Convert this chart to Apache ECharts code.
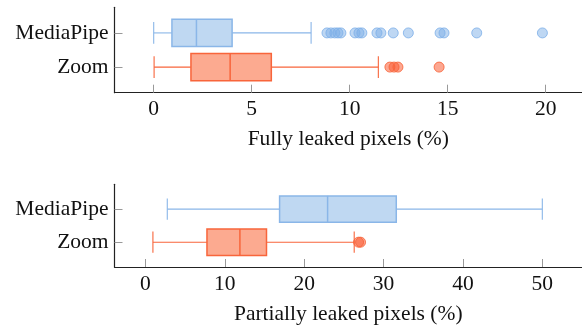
<!DOCTYPE html>
<html>
<head>
<meta charset="utf-8">
<script src="https://cdn.jsdelivr.net/npm/echarts@6/dist/echarts.min.js"></script>
<style>
html,body{margin:0;padding:0;background:#fff;}
#chart{width:582px;height:326px;}
</style>
</head>
<body>
<div id="chart"></div>
<script>
// Categories (y position 1 = Zoom, 2 = MediaPipe)
const categories = ['Zoom', 'MediaPipe'];

// Fully leaked pixels (%) : [min, Q1, median, Q3, max]
const fullyZoom = [0.02, 1.9, 3.9, 6.0, 11.46];
const fullyMediaPipe = [0.0, 0.93, 2.18, 4.0, 8.03];
const fullyZoomOutliers = [12.05, 12.26, 12.46, 14.56];
const fullyMediaPipeOutliers = [8.84, 9.04, 9.24, 9.40, 9.55, 10.27, 10.47, 10.62, 11.39, 11.59, 12.22, 12.99, 14.61, 14.81, 16.48, 19.83];

// Partially leaked pixels (%)
const partialZoom = [0.94, 7.75, 11.9, 15.25, 26.3];
const partialMediaPipe = [2.75, 16.9, 22.95, 31.6, 50.0];
const partialZoomOutliers = [26.85, 27.1];
const partialMediaPipeOutliers = [];

// Tick labels
const fullyTicks = [0, 5, 10, 15, 20];
const partialTicks = [0, 10, 20, 30, 40, 50];

const FONT = 'Liberation Serif';
const FS = 21.5;
const styles = {
  Zoom: {stroke: '#f8653b', fill: '#fcaa90', dotFill: 'rgba(250,95,55,0.55)', dotStroke: 'rgba(248,101,59,0.85)'},
  MediaPipe: {stroke: '#8ab6e8', fill: '#bfd8f2', dotFill: 'rgba(125,175,232,0.5)', dotStroke: 'rgba(125,175,232,0.8)'}
};

function renderBox(params, api) {
  const yv = api.value(0);
  const name = categories[yv - 1];
  const st = styles[name];
  const vmin = api.value(1), q1 = api.value(2), med = api.value(3), q3 = api.value(4), vmax = api.value(5);
  const c = api.coord([med, yv]);
  const y = c[1];
  const boxH = api.size([0, 0.8])[1];
  const capH = api.size([0, 0.64])[1];
  const xMin = api.coord([vmin, yv])[0];
  const xQ1 = api.coord([q1, yv])[0];
  const xMed = c[0];
  const xQ3 = api.coord([q3, yv])[0];
  const xMax = api.coord([vmax, yv])[0];
  const line = {stroke: st.stroke, lineWidth: 1.1};
  return {
    type: 'group',
    children: [
      {type: 'line', shape: {x1: xMin, y1: y, x2: xQ1, y2: y}, style: line},
      {type: 'line', shape: {x1: xQ3, y1: y, x2: xMax, y2: y}, style: line},
      {type: 'line', shape: {x1: xMin, y1: y - capH / 2, x2: xMin, y2: y + capH / 2}, style: line},
      {type: 'line', shape: {x1: xMax, y1: y - capH / 2, x2: xMax, y2: y + capH / 2}, style: line},
      {type: 'rect', shape: {x: xQ1, y: y - boxH / 2, width: xQ3 - xQ1, height: boxH},
        style: {fill: st.fill, stroke: st.stroke, lineWidth: 1.5}},
      {type: 'line', shape: {x1: xMed, y1: y - boxH / 2, x2: xMed, y2: y + boxH / 2},
        style: {stroke: st.stroke, lineWidth: 1.5}}
    ]
  };
}

function boxSeries(idx, zoomStats, mpStats) {
  return {
    type: 'custom',
    xAxisIndex: idx, yAxisIndex: idx,
    renderItem: renderBox,
    encode: {x: [1, 2, 3, 4, 5], y: 0},
    data: [[1].concat(zoomStats), [2].concat(mpStats)],
    z: 2
  };
}

function dotSeries(idx, values, yv) {
  const st = styles[categories[yv - 1]];
  return {
    type: 'scatter',
    xAxisIndex: idx, yAxisIndex: idx,
    symbol: 'circle', symbolSize: 10,
    itemStyle: {color: st.dotFill, borderColor: st.dotStroke, borderWidth: 1, opacity: 1},
    data: values.map(v => [v, yv]),
    z: 3
  };
}

function xAxis(idx, min, max, ticks, name) {
  return {
    type: 'value', gridIndex: idx, min: min, max: max,
    axisLine: {show: true, onZero: false, lineStyle: {color: '#222', width: 1.2}},
    axisTick: {show: true, inside: true, length: 8, customValues: ticks, lineStyle: {color: '#999'}},
    axisLabel: {show: true, customValues: ticks, margin: 6, fontFamily: FONT, fontSize: FS, color: '#111'},
    splitLine: {show: false},
    name: name, nameLocation: 'middle', nameGap: 36,
    nameTextStyle: {fontFamily: FONT, fontSize: FS, color: '#111'}
  };
}

function yAxis(idx) {
  return {
    type: 'value', gridIndex: idx, min: 0.25, max: 2.75,
    axisLine: {show: true, onZero: false, lineStyle: {color: '#222', width: 1.2}},
    axisTick: {show: true, inside: true, length: 8, customValues: [1, 2], lineStyle: {color: '#999'}},
    axisLabel: {show: true, customValues: [1, 2], margin: 6, fontFamily: FONT, fontSize: FS, color: '#111',
      formatter: v => categories[Math.round(v) - 1] || ''},
    splitLine: {show: false}
  };
}

const chart = echarts.init(document.getElementById('chart'), null, {renderer: 'canvas'});
chart.setOption({
  animation: false,
  backgroundColor: '#fff',
  grid: [
    {left: 114.5, right: 0, top: 7.3, height: 85.4},
    {left: 114.5, right: 0, top: 184.3, height: 84.7}
  ],
  xAxis: [
    xAxis(0, -2, 21.85, fullyTicks, 'Fully leaked pixels (%)'),
    xAxis(1, -3.9, 55, partialTicks, 'Partially leaked pixels (%)')
  ],
  yAxis: [yAxis(0), yAxis(1)],
  series: [
    boxSeries(0, fullyZoom, fullyMediaPipe),
    dotSeries(0, fullyZoomOutliers, 1),
    dotSeries(0, fullyMediaPipeOutliers, 2),
    boxSeries(1, partialZoom, partialMediaPipe),
    dotSeries(1, partialZoomOutliers, 1),
    dotSeries(1, partialMediaPipeOutliers, 2)
  ]
});
</script>
</body>
</html>
